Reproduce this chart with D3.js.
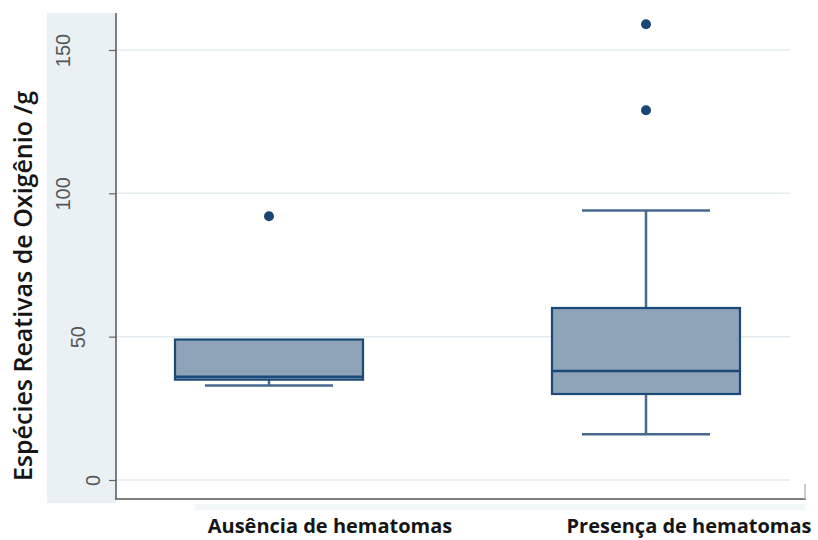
<!DOCTYPE html>
<html>
<head>
<meta charset="utf-8">
<script src="https://cdn.jsdelivr.net/npm/d3@7"></script>
<style>
  html, body { margin: 0; padding: 0; background: #ffffff; }
  svg { display: block; }
</style>
</head>
<body>
<svg id="chart" width="818" height="540"></svg>
<script>
// Group names along the x axis
const categories = ["Ausência de hematomas", "Presença de hematomas"];
// Box summaries per group: whisker low, Q1, median, Q3, whisker high
const whiskerLow  = [33, 16];
const q1          = [35, 30];
const median      = [36, 38];
const q3          = [49, 60];
const whiskerHigh = [49, 94];
// Points beyond the whiskers
const outliers = [[92], [129, 159]];
// Y axis ticks
const yTicks = [0, 50, 100, 150];

const svg = d3.select("#chart");

const axisX = 116, axisY = 499;
const y = d3.scaleLinear().domain([0, 150]).range([480, 50]);
const x = d3.scalePoint().domain(categories).range([269, 646]);

const boxW = 188, capW = 128;
const boxStroke = "#1c4a78", boxFill = "#8ea3b7", whiskerCol = "#46698f";

// shaded strip behind the y axis labels
svg.append("rect").attr("x", 47).attr("y", 13).attr("width", axisX - 47).attr("height", 490)
  .attr("fill", "#e9f1f5");
svg.append("rect").attr("x", 195).attr("y", 504).attr("width", 610).attr("height", 6)
  .attr("fill", "#f1f6f8");

// gridlines
svg.append("g").selectAll("line").data(yTicks).join("line")
  .attr("x1", axisX).attr("x2", 790)
  .attr("y1", d => y(d)).attr("y2", d => y(d))
  .attr("stroke", "#e3ecef").attr("stroke-width", 1.5);

// y axis
const yAxis = svg.append("g").attr("transform", `translate(${axisX},0)`)
  .call(d3.axisLeft(y).tickValues(yTicks).tickSize(7).tickPadding(0).tickFormat(d3.format("d")));
yAxis.select(".domain").remove();
yAxis.selectAll(".tick line").attr("stroke", "#666").attr("stroke-width", 1.2);
// rotated labels; baseline steps left as the label gets longer
yAxis.selectAll(".tick text")
  .attr("transform", d => `translate(${-1 - 15 * String(d).length},0) rotate(-90)`)
  .attr("text-anchor", "middle")
  .attr("x", 0).attr("dy", 0).attr("y", 0)
  .attr("fill", "#555")
  .style("font-family", "'Liberation Sans', Arial, sans-serif")
  .style("font-size", "20px");

// axis lines
svg.append("line").attr("x1", axisX).attr("x2", axisX).attr("y1", 13).attr("y2", axisY)
  .attr("stroke", "#555").attr("stroke-width", 1.5);
svg.append("line").attr("x1", axisX - 1).attr("x2", 806).attr("y1", axisY).attr("y2", axisY)
  .attr("stroke", "#555").attr("stroke-width", 1.5);
svg.append("line").attr("x1", 805).attr("x2", 805).attr("y1", 484).attr("y2", axisY)
  .attr("stroke", "#bbb").attr("stroke-width", 1.5);

// boxplots
const groups = svg.append("g").selectAll("g").data(categories).join("g");

groups.each(function(c, i) {
  const g = d3.select(this);
  const cx = x(c);
  // lower whisker
  g.append("line").attr("x1", cx).attr("x2", cx)
    .attr("y1", y(q1[i])).attr("y2", y(whiskerLow[i]))
    .attr("stroke", whiskerCol).attr("stroke-width", 2.5);
  g.append("line").attr("x1", cx - capW / 2).attr("x2", cx + capW / 2)
    .attr("y1", y(whiskerLow[i])).attr("y2", y(whiskerLow[i]))
    .attr("stroke", whiskerCol).attr("stroke-width", 2.5);
  // upper whisker
  if (whiskerHigh[i] > q3[i]) {
    g.append("line").attr("x1", cx).attr("x2", cx)
      .attr("y1", y(q3[i])).attr("y2", y(whiskerHigh[i]))
      .attr("stroke", whiskerCol).attr("stroke-width", 2.5);
    g.append("line").attr("x1", cx - capW / 2).attr("x2", cx + capW / 2)
      .attr("y1", y(whiskerHigh[i])).attr("y2", y(whiskerHigh[i]))
      .attr("stroke", whiskerCol).attr("stroke-width", 2.5);
  }
  // box
  g.append("rect").attr("x", cx - boxW / 2).attr("y", y(q3[i]))
    .attr("width", boxW).attr("height", y(q1[i]) - y(q3[i]))
    .attr("fill", boxFill).attr("stroke", boxStroke).attr("stroke-width", 2.2);
  // median
  g.append("line").attr("x1", cx - boxW / 2).attr("x2", cx + boxW / 2)
    .attr("y1", y(median[i])).attr("y2", y(median[i]))
    .attr("stroke", boxStroke).attr("stroke-width", 2.5);
  // outliers
  g.selectAll("circle").data(outliers[i]).join("circle")
    .attr("cx", cx).attr("cy", d => y(d)).attr("r", 5)
    .attr("fill", "#1a4676");
});

// y axis title
svg.append("text")
  .attr("transform", "translate(32,286) rotate(-90)")
  .attr("text-anchor", "middle")
  .attr("fill", "#151515")
  .style("font-family", "'Open Sans', sans-serif")
  .style("font-weight", 600)
  .style("font-size", "25px")
  .text("Espécies Reativas de Oxigênio /g");

// category labels
const labelX = [330, 689];
svg.append("g").selectAll("text").data(categories).join("text")
  .attr("x", (d, i) => labelX[i]).attr("y", 533)
  .attr("text-anchor", "middle")
  .attr("fill", "#151515")
  .style("font-family", "'Open Sans', sans-serif")
  .style("font-weight", 700)
  .style("font-size", "20px")
  .text(d => d);
</script>
</body>
</html>
